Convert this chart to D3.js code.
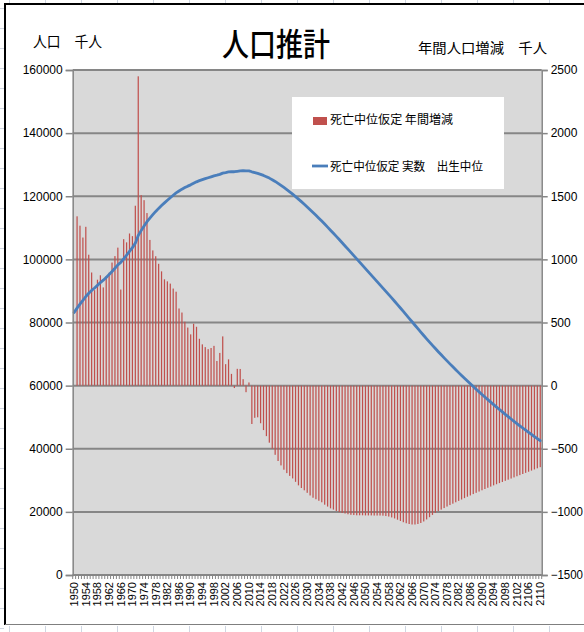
<!DOCTYPE html>
<html>
<head>
<meta charset="utf-8">
<script src="https://cdn.jsdelivr.net/npm/d3@7/dist/d3.min.js"></script>
<style>
  html, body { margin: 0; padding: 0; background: #fff; }
  svg { display: block; }
</style>
</head>
<body>
<svg id="chart" width="584" height="632"></svg>
<script>
// ---- data -------------------------------------------------------------
// Years on the category axis
const years = d3.range(1950, 2111);

// Total population (thousand people), 1950-2010 actual, 2011-2110 projection
const population = [
  83200, 84541, 85808, 86981, 88239, 89276, 90172, 90928, 91767, 92641,
  93419, 94287, 95181, 96156, 97182, 98275, 99036, 100196, 101331, 102536,
  103720, 105145, 107595, 109104, 110573, 111940, 113094, 114165, 115190, 116155,
  117060, 117902, 118728, 119536, 120305, 121049, 121660, 122239, 122745, 123205,
  123611, 124101, 124567, 124938, 125265, 125570, 125859, 126157, 126472, 126667,
  126926, 127316, 127486, 127694, 127787, 127768, 127901, 128033, 128084, 128032,
  128057, 127753, 127498, 127247, 126949, 126597, 126197, 125745, 125245, 124697,
  124100, 123468, 122802, 122109, 121394, 120659, 119897, 119107, 118296, 117467,
  116618, 115748, 114860, 113960, 113048, 112124, 111181, 110223, 109251, 108269,
  107276, 106274, 105265, 104252, 103233, 102210, 101185, 100158, 99131, 98104,
  97076, 96048, 95020, 93991, 92962, 91933, 90903, 89870, 88833, 87789,
  86737, 85675, 84603, 83521, 82431, 81335, 80235, 79135, 78039, 76951,
  75875, 74815, 73773, 72749, 71741, 70747, 69765, 68795, 67837, 66891,
  65956, 65032, 64119, 63217, 62326, 61446, 60576, 59717, 58868, 58029,
  57200, 56381, 55572, 54772, 53982, 53201, 52429, 51666, 50912, 50167,
  49431, 48704, 47986, 47277, 46577, 45886, 45204, 44531, 43867, 43212,
  42566
];

// Annual change (thousand people); no value for the first year
const annualChange = [
  null, 1341, 1267, 1173, 1258, 1037, 896, 756, 839, 874,
  778, 868, 894, 975, 1026, 1093, 761, 1160, 1135, 1205,
  1184, 1425, 2450, 1509, 1469, 1367, 1154, 1071, 1025, 965,
  905, 842, 826, 808, 769, 744, 611, 579, 506, 460,
  406, 490, 466, 371, 327, 305, 289, 298, 315, 195,
  259, 390, 170, 208, 93, -19, 133, 132, 51, -52,
  25, -304, -255, -251, -298, -352, -400, -452, -500, -548,
  -597, -632, -666, -693, -715, -735, -762, -790, -811, -829,
  -849, -870, -888, -900, -912, -924, -943, -958, -972, -982,
  -993, -1002, -1009, -1013, -1019, -1023, -1025, -1027, -1027, -1027,
  -1028, -1028, -1028, -1029, -1029, -1029, -1030, -1033, -1037, -1044,
  -1052, -1062, -1072, -1082, -1090, -1096, -1100, -1100, -1096, -1088,
  -1076, -1060, -1042, -1024, -1008, -994, -982, -970, -958, -946,
  -935, -924, -913, -902, -891, -880, -870, -859, -849, -839,
  -829, -819, -809, -800, -790, -781, -772, -763, -754, -745,
  -736, -727, -718, -709, -700, -691, -682, -673, -664, -655,
  -646
];

// Axis ticks and texts
const leftTicks = [0, 20000, 40000, 60000, 80000, 100000, 120000, 140000, 160000];
const rightTicks = [-1500, -1000, -500, 0, 500, 1000, 1500, 2000, 2500];
const labelYears = d3.range(1950, 2111, 4);
const titleText = "人口推計";
const leftUnit = "人口　千人";
const rightUnit = "年間人口増減　千人";
const seriesNames = ["死亡中位仮定 年間増減", "死亡中位仮定 実数　出生中位"];

// ---- layout ------------------------------------------------------------
const svg = d3.select("#chart");
const plot = { left: 72.7, right: 541.7, top: 70, bottom: 575 };
const numFont = "'Liberation Sans', Arial, sans-serif";
const jpFont = "'Noto Sans CJK JP', 'Noto Sans', sans-serif";
const barColor = "#c0504d";
const lineColor = "#4a7ebb";
const gridColor = "#868686";

// worksheet cell lines around the chart object
const cellLines = svg.append("g").attr("stroke", "#cfd6e2").attr("stroke-width", 1);
d3.range(9.5, 584, 36).forEach(cx => {
  cellLines.append("line").attr("x1", cx).attr("x2", cx).attr("y1", 0).attr("y2", 3);
  cellLines.append("line").attr("x1", cx).attr("x2", cx).attr("y1", 626).attr("y2", 632);
});
d3.range(8.5, 632, 20).forEach(cy => {
  cellLines.append("line").attr("x1", 0).attr("x2", 4).attr("y1", cy).attr("y2", cy);
});

// chart object frame
svg.append("rect").attr("x", 5).attr("y", 4).attr("width", 590).attr("height", 620.5)
  .attr("fill", "#fff").attr("stroke", "none");
svg.append("line").attr("x1", 4).attr("x2", 584).attr("y1", 4).attr("y2", 4)
  .attr("stroke", "#000").attr("stroke-width", 2);
svg.append("line").attr("x1", 5).attr("x2", 5).attr("y1", 3).attr("y2", 625)
  .attr("stroke", "#000").attr("stroke-width", 2);
svg.append("line").attr("x1", 5).attr("x2", 584).attr("y1", 624.5).attr("y2", 624.5)
  .attr("stroke", "#7f7f7f").attr("stroke-width", 1);

// ---- scales ------------------------------------------------------------
const x = d3.scaleBand().domain(years).range([plot.left, plot.right])
  .paddingInner(0.58).paddingOuter(0.29);
const step = x.step();
const xc = d => x(d) + x.bandwidth() / 2;
const yL = d3.scaleLinear().domain([0, 160000]).range([plot.bottom, plot.top]);
const yR = d3.scaleLinear().domain([-1500, 2500]).range([plot.bottom, plot.top]);

// plot area
svg.append("rect").attr("x", plot.left).attr("y", plot.top)
  .attr("width", plot.right - plot.left).attr("height", plot.bottom - plot.top)
  .attr("fill", "#d9d9d9");

// horizontal gridlines
svg.append("g").selectAll("line").data(leftTicks).join("line")
  .attr("x1", plot.left).attr("x2", plot.right)
  .attr("y1", d => yL(d)).attr("y2", d => yL(d))
  .attr("stroke", gridColor).attr("stroke-width", 2);

// ---- bars: annual change on the right axis -----------------------------
const barData = years.map((yr, i) => ({ yr, v: annualChange[i] })).filter(d => d.v !== null);
svg.append("g").selectAll("rect").data(barData).join("rect")
  .attr("x", d => x(d.yr))
  .attr("width", x.bandwidth())
  .attr("y", d => Math.min(yR(d.v), yR(0)))
  .attr("height", d => Math.abs(yR(d.v) - yR(0)))
  .attr("fill", barColor);

// ---- line: population on the left axis -------------------------------
const line = d3.line().x(d => xc(d.yr)).y(d => yL(d.v));
svg.append("path")
  .datum(years.map((yr, i) => ({ yr, v: population[i] })))
  .attr("d", line)
  .attr("fill", "none").attr("stroke", lineColor).attr("stroke-width", 2.8)
  .attr("stroke-linejoin", "round").attr("stroke-linecap", "round");

// ---- axes ------------------------------------------------------------------
const leftAxis = svg.append("g").attr("transform", `translate(${plot.left},0)`)
  .call(d3.axisLeft(yL).tickValues(leftTicks).tickSize(7).tickPadding(3).tickFormat(d3.format("d")));
const rightAxis = svg.append("g").attr("transform", `translate(${plot.right},0)`)
  .call(d3.axisRight(yR).tickValues(rightTicks).tickSize(6).tickPadding(3).tickFormat(d3.format("d")));
[leftAxis, rightAxis].forEach(g => {
  g.select(".domain").attr("stroke", gridColor).attr("stroke-width", 1.5);
  g.selectAll(".tick line").attr("stroke", gridColor).attr("stroke-width", 1.5);
  g.selectAll(".tick text").attr("font-family", numFont).attr("font-size", 12).attr("fill", "#000");
});
// keep the widest right-hand labels inside the frame
rightAxis.selectAll(".tick text").attr("textLength", function () {
  const w = this.getComputedTextLength();
  return Math.min(w, 584 - 1 - (plot.right + 9));
}).attr("lengthAdjust", "spacingAndGlyphs");

// category axis: boundary ticks for every year, labels every fourth year
const xAxisG = svg.append("g");
xAxisG.append("line").attr("x1", plot.left).attr("x2", plot.right)
  .attr("y1", plot.bottom).attr("y2", plot.bottom)
  .attr("stroke", gridColor).attr("stroke-width", 1.5);
xAxisG.selectAll("line.tk").data(years.concat([years[years.length - 1] + 1])).join("line")
  .attr("class", "tk")
  .attr("x1", (d, i) => plot.left + i * step).attr("x2", (d, i) => plot.left + i * step)
  .attr("y1", plot.bottom).attr("y2", plot.bottom + 4)
  .attr("stroke", gridColor).attr("stroke-width", 1);
xAxisG.selectAll("text").data(labelYears).join("text")
  .attr("transform", d => `translate(${xc(d) + 3.8},${plot.bottom + 7}) rotate(-90)`)
  .attr("text-anchor", "end")
  .attr("font-family", numFont).attr("font-size", 11).attr("fill", "#000")
  .text(d => d);

// ---- titles ------------------------------------------------------------
svg.append("text").attr("x", 222).attr("y", 56)
  .attr("font-family", jpFont).attr("font-size", 32).attr("font-weight", 500)
  .attr("textLength", 108).attr("lengthAdjust", "spacingAndGlyphs")
  .text(titleText);
svg.append("text").attr("x", 33).attr("y", 47)
  .attr("font-family", jpFont).attr("font-size", 15)
  .attr("textLength", 69).attr("lengthAdjust", "spacingAndGlyphs")
  .text(leftUnit);
svg.append("text").attr("x", 418).attr("y", 53)
  .attr("font-family", jpFont).attr("font-size", 14)
  .attr("textLength", 129).attr("lengthAdjust", "spacingAndGlyphs")
  .text(rightUnit);

// ---- legend ------------------------------------------------------------
const legend = svg.append("g");
legend.append("rect").attr("x", 292).attr("y", 97).attr("width", 212).attr("height", 92)
  .attr("fill", "#fff");
legend.append("rect").attr("x", 313).attr("y", 117).attr("width", 14).attr("height", 8)
  .attr("fill", barColor);
legend.append("line").attr("x1", 312).attr("x2", 328).attr("y1", 166).attr("y2", 166)
  .attr("stroke", lineColor).attr("stroke-width", 2.8);
legend.append("text").attr("x", 330).attr("y", 124)
  .attr("font-family", jpFont).attr("font-size", 12)
  .attr("textLength", 123).attr("lengthAdjust", "spacingAndGlyphs")
  .text(seriesNames[0]);
legend.append("text").attr("x", 330).attr("y", 171)
  .attr("font-family", jpFont).attr("font-size", 12)
  .attr("textLength", 153).attr("lengthAdjust", "spacingAndGlyphs")
  .text(seriesNames[1]);
</script>
</body>
</html>
